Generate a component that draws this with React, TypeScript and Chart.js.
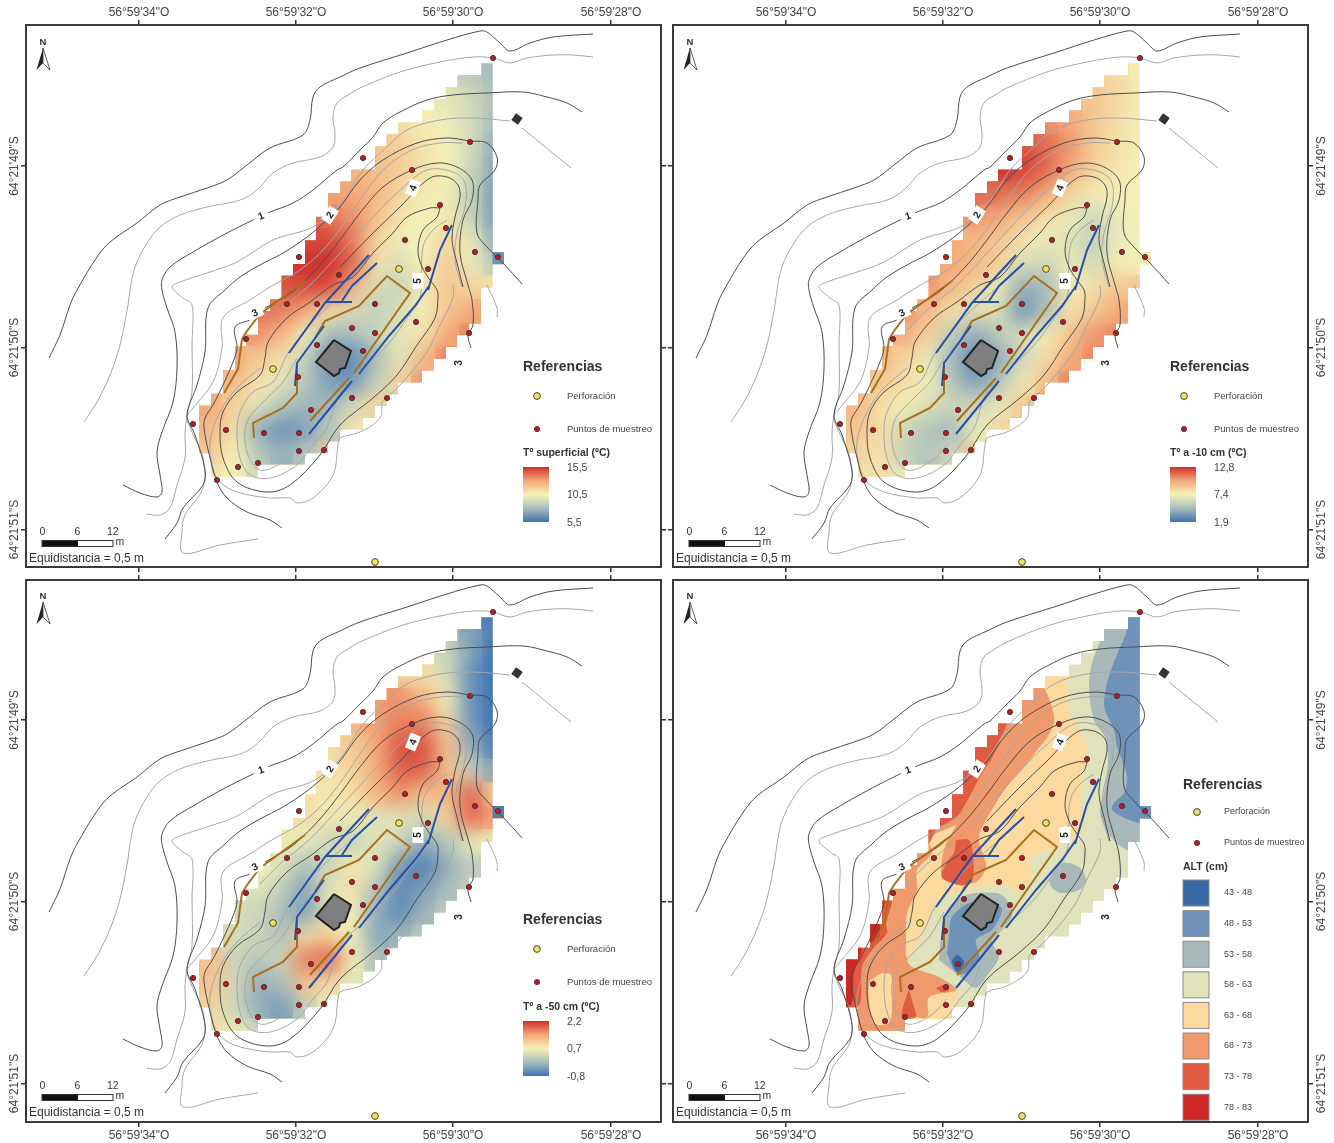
import React, { useEffect, useRef } from "react";
import { Chart, registerables } from "chart.js";

type P = [number, number];
type N = number | null;
const _ = null;

// ---- axes ----
const lonTicks = [139, 296, 453, 611];
const lonLabels = ['56°59\'34"O', '56°59\'32"O', '56°59\'30"O', '56°59\'28"O'];
const latTicks = [166, 347.5, 529.5];
const latLabels = ['64°21\'49"S', '64°21\'50"S', '64°21\'51"S'];

// ---- contours ----
const contourOuter: P[] = [[49,358],[60,335],[70,305],[77,290],[97,257],[110,242],[137,223],[160,205],[180,197],[207,188],[227,180],[247,165],[270,148],[303,135],[310,120],[313,97],[320,87],[340,77],[360,68],[407,53],[447,40],[480,31],[487,32],[500,43],[510,51],[530,43],[553,37],[593,34]];
const contourOuterGrey: P[] = [[84,422],[97,402],[110,375],[120,345],[128,305],[130,290],[135,267],[147,243],[160,227],[180,215],[207,207],[233,202],[247,197],[260,187],[273,173],[293,163],[320,157],[333,147],[335,133],[333,117],[337,103],[348,95],[360,88],[400,72],[440,62],[473,57],[493,58],[510,63],[527,58],[553,55],[573,55],[593,57]];
const contour1: P[] = [[123,485],[140,493],[157,497],[162,492],[160,475],[157,452],[162,432],[173,402],[177,368],[175,332],[167,308],[162,290],[162,280],[170,267],[193,252],[227,233],[253,220],[270,212],[293,203],[313,190],[337,170],[343,167],[360,150],[373,137],[383,123],[400,112],[427,100],[453,95],[487,93],[523,92],[547,97],[567,103],[582,112]];
const contourGreyD: P[] = [[147,514],[160,515],[170,508],[177,485],[185,458],[185,432],[187,415],[192,392],[192,345],[192,305],[183,298],[172,287],[180,282],[207,273],[237,262],[273,240],[313,227],[340,205],[363,170],[387,147],[407,130],[440,120],[473,118],[510,121]];
const contour2: P[] = [[165,539],[177,523],[183,508],[203,485],[205,470],[195,435],[187,415],[197,385],[205,352],[208,308],[225,290],[240,277],[260,265],[283,253],[307,237],[327,220],[340,207],[360,180],[383,160],[417,143],[447,138],[470,141],[487,143],[497,157],[495,170],[480,185],[478,200],[477,233],[487,247],[503,263],[522,284]];
const contourGreyF: P[] = [[258,539],[220,545],[183,553],[182,532],[185,515],[203,488],[203,458],[192,432],[187,417],[193,408],[213,382],[222,348],[223,318],[250,300],[270,287],[300,270],[325,248],[350,215],[360,200],[383,170],[412,150],[440,143],[463,143]];
const contour3: P[] = [[282,528],[270,520],[247,512],[227,498],[217,482],[210,458],[204,428],[205,418],[213,405],[223,385],[233,362],[237,348],[235,327],[250,320]];
const contour3b: P[] = [[265,308],[283,298],[297,288],[320,265],[340,240],[360,213],[383,187],[412,170],[437,163],[457,167],[472,180],[472,200],[463,220],[460,253],[468,285],[472,300],[473,325],[468,335],[471,348]];
const contour4: P[] = [[340,267],[373,233],[400,207],[430,178],[447,177],[458,185],[460,197],[455,217],[452,240],[457,263],[463,287]];
const contour5: P[] = [[440,208],[430,208],[407,217],[393,233],[373,253],[353,277],[333,285],[310,302],[287,318],[268,342],[265,358],[260,375],[237,392],[223,412],[220,432],[223,458],[237,482],[267,492],[290,485],[320,455],[340,425],[373,398],[397,375],[417,345],[435,318],[438,298],[437,290],[430,280],[422,267],[418,250],[423,230],[437,217],[440,208]];
const contourGreyG: P[] = [[382,402],[380,418],[360,432],[340,438],[338,445],[333,475],[313,498],[297,503],[290,498],[270,498],[237,492],[220,482],[213,468],[210,442],[220,412],[237,388],[260,368]];
const contourGreyH: P[] = [[382,402],[400,385],[427,352],[440,325],[453,298],[453,285]];
const contourGreyI: P[] = [[447,220],[433,230],[423,247],[420,298],[407,318],[390,342],[367,365],[340,392],[327,428],[313,445],[297,465],[270,478],[250,475],[240,458],[237,432],[240,412],[253,392],[273,382],[287,355],[307,328],[330,305],[350,288]];
const contourGreyJ: P[] = [[300,445],[283,462],[260,470],[247,452],[247,422],[267,398],[283,382],[297,358]];
const contourGreyK: P[] = [[260,330],[280,310],[310,285],[340,253],[377,213],[397,193],[427,170],[453,172],[465,183],[465,207],[457,233],[455,260],[462,287]];
const contourGreyL: P[] = [[487,285],[497,308],[497,317]];
const darkContours = [contourOuter, contour1, contour2, contour3, contour3b, contour4, contour5];
const greyContours = [contourOuterGrey, contourGreyD, contourGreyF, contourGreyG, contourGreyH, contourGreyI, contourGreyJ, contourGreyK, contourGreyL];
const hutLine: P[] = [[522,128],[571,168]];

// ---- site features ----
const blueLines: P[][] = [
  [[369,255],[345,281],[325,303],[289,353]],
  [[325,302],[352,302]],
  [[377,263],[352,286],[342,301]],
  [[324,326],[297,363],[295,386]],
  [[429,286],[415,306],[389,336],[359,374]],
  [[352,381],[309,434]],
  [[452,225],[440,250],[428,290]],
];
const brownLines: P[][] = [
  [[305,281],[275,303],[260,314],[247,331],[242,339],[238,369],[224,393]],
  [[254,438],[253,423],[283,408],[297,393],[297,365]],
  [[315,338],[325,321],[359,306],[387,276],[410,293],[354,373]],
  [[349,378],[310,421]],
];
const building: P[] = [[334,340],[351,351],[345,368],[340,369],[339,373],[334,376],[316,362],[334,340]];
const hut: P[] = [[517,119]];
const samplePoints: P[] = [[299,257],[339,275],[493,58],[363,158],[470,142],[412,170],[440,205],[446,228],[405,240],[475,252],[498,257],[428,269],[287,304],[317,304],[246,339],[317,345],[298,377],[311,410],[193,424],[226,430],[264,433],[299,433],[299,451],[324,450],[238,467],[258,463],[217,480],[375,304],[352,328],[375,333],[416,322],[363,351],[469,333],[352,398],[387,398]];
const boreholes: P[] = [[399,269],[273,369],[375,562]];

// ---- raster footprint (one entry per row of the raster) ----
const footLeft = [481,457,445.6,434,422,398,386.5,375,375,351,340,328,328,316,316,305,305,293,281.5,281.5,270,258,258,246,235,235,223,223,211,199,199,199,199,211,211];
const footRight = [492.7,492.7,492.7,492.7,492.7,492.7,492.7,492.7,492.7,492.7,492.7,492.7,492.7,492.7,492.7,492.7,504,492.7,492.7,481,481,481,469,457,446,434,422,398,387,375,363,340,328,305,258];

// ---- raster values ----
const heatX = [211,235,258,282,305,329,353,376,400,423,447,471,494];
const heatY = [75,99,122,146,169,193,217,240,264,287,311,335,358,382,405,429,453,476];
const tempSurface: N[][] = [
  [_,_,_,_,_,_,_,_,_,_,9.5,8.7,8],
  [_,_,_,_,_,_,_,_,_,10,10,9.3,8.3],
  [_,_,_,_,_,_,_,_,11.2,10.7,10.3,9.5,8],
  [_,_,_,_,_,_,_,12,11.7,11,10.5,9.5,7.5],
  [_,_,_,_,_,_,12.5,12.3,11.8,11,10.5,9.3,7.2],
  [_,_,_,_,_,13,13,12.5,11.5,10.8,10.3,9,7],
  [_,_,_,_,14,14,13.5,12.3,11,10.5,10.8,9,7],
  [_,_,_,15,15,15,14,11.5,10.3,10.5,11.5,10.3,7.5],
  [_,_,_,15,15.5,15.5,14.5,11,9.5,10.5,12,10.3,8.5],
  [_,_,14.5,14.8,15,15,12.5,9.5,9,10.8,12,11.5,11],
  [_,13.5,14,14,13,11,9.5,9,9.5,10.5,12,13,_],
  [_,13.5,13.5,12.5,10.5,8,8,9,10,11,13,14,_],
  [13,13,12,11,9,6.5,6.2,8,10,12.5,14,_,_],
  [13.5,12.5,11,10,8.5,7,6.5,9,11.5,13.5,_,_,_],
  [13,11.5,10,8.5,7.8,7.8,9.5,11.5,13,_,_,_,_],
  [12.5,11,7.5,6.5,7,8.5,11,13,_,_,_,_,_],
  [12,10.5,8.5,7.5,8.5,12,12,_,_,_,_,_,_],
  [11,10.5,9.5,10,11,_,_,_,_,_,_,_,_],
];
const temp10cm: N[][] = [
  [_,_,_,_,_,_,_,_,_,_,8.5,8.3,7.5],
  [_,_,_,_,_,_,_,_,_,9.3,9,8.3,7.5],
  [_,_,_,_,_,_,_,_,10.5,10,9,8,7.5],
  [_,_,_,_,_,_,_,12,11.5,10.5,8.8,8,7.5],
  [_,_,_,_,_,_,12.8,12.5,11.5,10,8.5,7.8,7.3],
  [_,_,_,_,_,11.5,11.5,11,10,8.5,7.5,7.5,7.3],
  [_,_,_,_,10.5,10.5,10,9,8,7,6,7,7.3],
  [_,_,_,10.5,10,9.5,9,8,7,6.5,5.5,7,7.2],
  [_,_,_,10.5,10,9.5,8.5,6.5,6,7,6,7.5,7.5],
  [_,_,11,10.5,9.5,8.5,7,4,4.5,7.5,8,9,9],
  [_,11,10.5,9.5,8,6.5,6.5,3,5,8,9,10,_],
  [_,10.5,10,8.5,5.5,4,5.5,6.5,7.5,9,10.5,11,_],
  [10,9.5,8.5,7,4.5,2.5,4,6,8,10,11,_,_],
  [10,9,8,7.2,5,3.5,5,7.5,9.5,11,_,_,_],
  [9.5,8,7.5,6.5,6,6,7,9,11,_,_,_,_],
  [9,8,6,5,4.5,7,8.5,10.5,_,_,_,_,_],
  [8.5,8,5.5,5,6,9,9.5,_,_,_,_,_,_],
  [8,8,7,7.5,8,_,_,_,_,_,_,_,_],
];
const temp50cm: N[][] = [
  [_,_,_,_,_,_,_,_,_,_,0.1,-0.3,-0.7],
  [_,_,_,_,_,_,_,_,_,0.6,0.3,-0.3,-0.8],
  [_,_,_,_,_,_,_,_,1,0.9,0.4,-0.5,-0.8],
  [_,_,_,_,_,_,_,1.5,1.6,1.4,0.7,-0.5,-0.8],
  [_,_,_,_,_,_,1.3,1.5,1.7,1.7,1,-0.4,-0.8],
  [_,_,_,_,_,0.9,1.1,1.4,2,2,1.2,-0.2,-0.7],
  [_,_,_,_,0.9,0.9,1,1.4,1.9,1.9,1.2,0.3,-0.3],
  [_,_,_,0.9,0.9,0.8,0.9,1.3,1.6,1.2,1.3,1.9,1],
  [_,_,_,0.9,0.9,0.8,0.6,0.5,0.5,0.4,1,1.9,1.5],
  [_,_,0.8,0.8,0.6,0.3,0.2,0.5,0.4,-0.2,0.1,0.6,0.6],
  [_,0.6,0.7,0.5,0,0.3,0.8,0.5,-0.4,-0.7,-0.2,0.2,_],
  [_,0.4,0.5,0.2,-0.3,0.5,0.9,0.1,-0.6,-0.4,0,0.2,_],
  [0.8,0.4,0.3,0,-0.4,0.6,0.7,-0.2,-0.6,-0.1,0.2,_,_],
  [1,0.4,0.3,0,0.9,1.1,0.7,-0.3,-0.1,0.2,_,_,_],
  [1.2,0.3,0.1,0.3,1.7,1.9,0.7,0,0.3,_,_,_,_],
  [1.2,0.4,-0.2,0,1.2,0.9,0.5,0.4,_,_,_,_,_],
  [1,0.3,-0.2,-0.4,0.2,0.6,0.6,_,_,_,_,_,_],
  [0.9,0.6,0.4,0.4,0.5,_,_,_,_,_,_,_,_],
];
const sideCellSurface = 6.5;
const sideCell10cm = 7.6;
const sideCell50cm = -0.7;
const sideCell: P = [498.5, 258];

// ---- active-layer bands ----
const altClasses = ["43 - 48","48 - 53","53 - 58","58 - 63","63 - 68","68 - 73","73 - 78","78 - 83"];
const altColors = ["#3a6ba8","#6f93b8","#a9b8b8","#dfe2bb","#fbd99f","#f0996c","#e05b42","#cc2826"];
const altBase: P[] = [[190,55],[510,55],[510,480],[190,480]];
const alt63: P[] = [[422,110],[422,156],[432,176],[440,189],[440,206],[435,226],[434,253],[437,266],[432,283],[410,293],[384,303],[385,313],[382,329],[370,339],[362,333],[345,331],[319,336],[289,349],[279,373],[260,403],[265,413],[292,423],[309,436],[309,449],[304,463],[304,480],[190,480],[190,400],[280,270],[340,170],[397,110]];
const alt68: P[] = [[385,130],[397,134],[407,169],[385,203],[365,226],[349,249],[332,283],[339,313],[329,328],[309,331],[289,349],[279,373],[260,403],[265,413],[292,423],[309,436],[282,443],[280,463],[259,463],[259,480],[190,480],[190,390],[250,300],[290,250],[330,180],[380,125]];
const alt63b: P[] = [[309,271],[297,296],[295,324],[309,331],[289,349],[279,373],[260,403],[259,386],[260,359],[270,336],[270,316],[285,299],[282,284]];
const alt63c: P[] = [[235,419],[244,421],[245,454],[242,469],[227,469],[222,429]];
const alt73a: P[] = [[309,286],[322,286],[326,301],[325,328],[312,331],[295,323],[300,308],[307,299]];
const alt73b: P[] = [[362,165],[352,189],[344,206],[335,219],[319,249],[309,264],[290,275],[280,290],[250,260],[330,160]];
const alt73c: P[] = [[234,346],[245,346],[239,369],[240,379],[225,396],[215,413],[212,451],[190,451],[190,400],[215,385],[225,365]];
const alt73d: P[] = [[262,436],[267,453],[269,463],[255,463],[259,443]];
const alt73e: P[] = [[289,434],[297,431],[302,436],[295,438]];
const alt78a: P[] = [[190,404],[199,404],[210,393],[215,396],[207,419],[204,451],[190,451]];
const alt78b: P[] = [[222,369],[232,369],[232,383],[222,388]];
const alt58a: P[] = [[457,60],[457,76],[445,109],[442,133],[447,166],[458,183],[461,199],[460,219],[457,239],[453,259],[464,283],[480,296],[510,300],[510,60]];
const alt53a: P[] = [[292,406],[309,419],[329,434],[342,419],[352,403],[345,386],[365,363],[360,346],[349,339],[319,341],[302,353],[295,376]];
const alt53b: P[] = [[402,326],[415,309],[432,313],[439,326],[432,336],[415,339],[405,334]];
const alt48a: P[] = [[480,60],[480,76],[469,103],[460,129],[457,149],[459,159],[467,176],[470,193],[475,206],[480,223],[477,239],[467,249],[465,256],[485,267],[510,270],[510,60]];
const alt48b: P[] = [[300,399],[309,419],[320,419],[332,403],[329,386],[345,376],[355,356],[345,348],[322,349],[305,363],[302,383]];
const alt43a: P[] = [[305,406],[310,401],[317,408],[312,418],[307,414]];

// ---- colour ramp ----
const rampStops: [number, number, number][] = [[63,115,180],[168,188,188],[244,242,184],[244,168,120],[208,48,44]];
function rampColor(t: number) {
  const c = Math.max(0, Math.min(1, t)) * (rampStops.length - 1);
  const i = Math.min(rampStops.length - 2, Math.floor(c));
  const f = c - i;
  const m = (k: number) => Math.round(rampStops[i][k] + (rampStops[i + 1][k] - rampStops[i][k]) * f);
  return `rgb(${m(0)},${m(1)},${m(2)})`;
}

const SERIF_FREE = '"Liberation Sans", Arial, sans-serif';
const xy = (p: P[]) => p.map(([x, y]) => ({ x, y }));
const closed = (p: P[]) => xy([...p, p[0]]);

function footprintPath(chart: any) {
  const ctx = chart.ctx, sx = chart.scales.x, sy = chart.scales.y;
  ctx.beginPath();
  footLeft.forEach((l, j) => {
    const y0 = sy.getPixelForValue(63.3 + 11.8 * j);
    const y1 = sy.getPixelForValue(63.3 + 11.8 * (j + 1));
    const x0 = sx.getPixelForValue(l);
    const x1 = sx.getPixelForValue(footRight[j]);
    ctx.rect(x0, y0, x1 - x0, y1 - y0 + 0.5);
  });
}
const footClip = {
  id: "footClip",
  beforeDatasetDraw(chart: any, args: any) {
    const ds = chart.data.datasets[args.index];
    if (!ds.clipFoot) return;
    chart.ctx.save();
    footprintPath(chart);
    chart.ctx.clip();
  },
  afterDatasetDraw(chart: any, args: any) {
    const ds = chart.data.datasets[args.index];
    if (!ds.clipFoot) return;
    const ctx = chart.ctx;
    if (ds.smoothPx) {
      // soften the finished raster layer as a whole
      ctx.filter = `blur(${ds.smoothPx}px)`;
      ctx.drawImage(chart.canvas, 0, 0);
      ctx.filter = "none";
    }
    ctx.restore();
  },
};
Chart.register(footClip, ...registerables);

function line(p: P[], color: string, width: number, tension = 0.35) {
  return { data: xy(p), showLine: true, borderColor: color, borderWidth: width, pointRadius: 0, tension, fill: false };
}
function band(p: P[], color: string) {
  return { data: closed(p), showLine: true, borderWidth: 0, borderColor: color, backgroundColor: color, pointRadius: 0, tension: 0.3, fill: "shape", clipFoot: true };
}
function heatLayers(grid: N[][], lo: number, hi: number, side: number) {
  const pts: { x: number; y: number }[] = [];
  const cols: string[] = [];
  grid.forEach((row, j) => row.forEach((v, i) => {
    if (v === null) return;
    pts.push({ x: heatX[i], y: heatY[j] });
    cols.push(rampColor((v - lo) / (hi - lo)));
  }));
  return [
    { data: pts, showLine: false, pointStyle: "rect", pointRadius: 17, pointBorderWidth: 0, pointBackgroundColor: cols, clipFoot: true, smoothPx: 10 },
    { data: xy([sideCell]), showLine: false, pointStyle: "rect", pointRadius: 8.4, pointBorderWidth: 0, pointBackgroundColor: rampColor((side - lo) / (hi - lo)), clipFoot: true },
  ];
}
function altLayers() {
  const c = altColors;
  return [
    band(altBase, c[3]), band(alt58a, c[2]), band(alt48a, c[1]), band(alt63, c[4]), band(alt68, c[5]),
    band(alt63b, c[4]), band(alt63c, c[4]), band(alt73a, c[6]), band(alt73b, c[6]), band(alt73c, c[6]),
    band(alt73d, c[6]), band(alt73e, c[6]), band(alt78a, c[7]), band(alt78b, c[7]),
    band(alt53a, c[2]), band(alt53b, c[2]), band(alt48b, c[1]), band(alt43a, c[0]),
  ];
}
function mapLayers() {
  return [
    ...greyContours.map((g) => line(g, "#a6a6a6", 1)),
    line(hutLine, "#a6a6a6", 1),
    ...darkContours.map((g) => line(g, "#4d4d4d", 1)),
    ...brownLines.map((g) => line(g, "#a8701e", 2, 0)),
    ...blueLines.map((g) => line(g, "#2650a8", 2, 0)),
    { data: xy(building), showLine: true, borderColor: "#222", borderWidth: 2, backgroundColor: "#7f7f7f", pointRadius: 0, tension: 0, fill: "shape" },
    { data: xy(hut), showLine: false, pointStyle: "rect", pointRotation: 35, pointRadius: 5.8, pointBackgroundColor: "#333", pointBorderWidth: 0 },
    { data: xy(samplePoints), showLine: false, pointRadius: 2.6, pointBackgroundColor: "#c8141e", pointBorderColor: "#3a3a3a", pointBorderWidth: 1 },
    { data: xy(boreholes), showLine: false, pointRadius: 3.4, pointBackgroundColor: "#f2e05a", pointBorderColor: "#4a4a3a", pointBorderWidth: 1 },
  ];
}

const contourLabels: { t: string; x: number; y: number; a: number }[] = [
  { t: "1", x: 261, y: 216, a: -20 },
  { t: "2", x: 330, y: 215, a: -58 },
  { t: "3", x: 255, y: 313, a: -25 },
  { t: "4", x: 413, y: 188, a: -68 },
  { t: "5", x: 418, y: 281, a: -90 },
  { t: "3", x: 459, y: 363, a: -90 },
];

function overlay(panel: any) {
  return {
    id: "mapOverlay",
    afterDatasetsDraw(chart: any) {
      const ctx = chart.ctx, sx = chart.scales.x, sy = chart.scales.y;
      const X = (v: number) => sx.getPixelForValue(v);
      const Y = (v: number) => sy.getPixelForValue(v);
      const text = (s: string, x: number, y: number, font: string, color = "#444") => {
        ctx.font = font; ctx.fillStyle = color; ctx.textBaseline = "middle"; ctx.textAlign = "left";
        ctx.fillText(s, X(x), Y(y));
      };
      const F = (size: number, bold = false) => `${bold ? "bold " : ""}${size}px ${SERIF_FREE}`;
      ctx.save();
      // contour labels
      for (const l of contourLabels) {
        ctx.save();
        ctx.translate(X(l.x), Y(l.y));
        ctx.rotate((l.a * Math.PI) / 180);
        ctx.fillStyle = "#fff";
        ctx.fillRect(-8, -5.5, 16, 11);
        ctx.fillStyle = "#222"; ctx.font = F(10, true); ctx.textAlign = "center"; ctx.textBaseline = "middle";
        ctx.fillText(l.t, 0, 0.5);
        ctx.restore();
      }
      // north arrow
      text("N", 39.5, 42, F(9.5, true), "#333");
      ctx.beginPath(); ctx.moveTo(X(43), Y(48)); ctx.lineTo(X(36.5), Y(70)); ctx.lineTo(X(43), Y(63)); ctx.closePath(); ctx.fillStyle = "#222"; ctx.fill();
      ctx.beginPath(); ctx.moveTo(X(43), Y(48)); ctx.lineTo(X(50), Y(70)); ctx.lineTo(X(43), Y(63)); ctx.closePath(); ctx.fillStyle = "#fff"; ctx.fill(); ctx.strokeStyle = "#333"; ctx.lineWidth = 0.8; ctx.stroke();
      // scale bar
      text("0", 39.5, 532, F(10.5), "#333");
      text("6", 74.5, 532, F(10.5), "#333");
      text("12", 107, 532, F(10.5), "#333");
      text("m", 115.5, 542, F(10.5), "#333");
      ctx.fillStyle = "#111"; ctx.fillRect(X(42), Y(540.5), 36, 6);
      ctx.strokeStyle = "#333"; ctx.lineWidth = 1; ctx.strokeRect(X(42), Y(540.5), 71, 6);
      text("Equidistancia = 0,5 m", 29, 559, F(12), "#333");
      // legend
      const L = panel.legend;
      const small = panel.ramp ? 9.5 : 9;
      text("Referencias", L.x, L.refY, F(14, true), "#333");
      const marker = (y: number, fill: string, r: number) => {
        ctx.beginPath(); ctx.arc(X(L.x + 14), Y(y), r, 0, Math.PI * 2); ctx.fillStyle = fill; ctx.fill(); ctx.strokeStyle = "#444"; ctx.lineWidth = 1; ctx.stroke();
      };
      marker(L.perfY, "#f2e05a", 3.4);
      marker(L.puntY, "#c8141e", 2.6);
      text("Perforación", L.textX, L.perfY, F(small));
      text("Puntos de muestreo", L.textX, L.puntY, F(small));
      text(panel.title, L.x, L.titleY, F(10.5, true), "#333");
      if (panel.ramp) {
        const top = Y(467), bottom = Y(522);
        const g = ctx.createLinearGradient(0, top, 0, bottom);
        [1, 0.75, 0.5, 0.25, 0].forEach((t, i) => g.addColorStop(i / 4, rampColor(t)));
        ctx.fillStyle = g; ctx.fillRect(X(523), top, 26, bottom - top);
        text(panel.ramp[0], 567, 468, F(10.5));
        text(panel.ramp[1], 567, 495, F(10.5));
        text(panel.ramp[2], 567, 523, F(10.5));
      } else {
        altClasses.forEach((c, i) => {
          const y = 326 + i * 30.6;
          ctx.fillStyle = altColors[i]; ctx.fillRect(X(536), Y(y), 26, 26);
          ctx.strokeStyle = "#8a8a8a"; ctx.lineWidth = 1; ctx.strokeRect(X(536), Y(y), 26, 26);
          text(c, 577, y + 13, F(9));
        });
      }
      ctx.restore();
    },
  };
}

const panels = [
  { left: 0, top: 0, xPos: "top", yPos: "left", yMin: 25, title: "Tº superficial (ºC)", ramp: ["15,5","10,5","5,5"],
    legend: { x: 523, refY: 367, perfY: 396, puntY: 429, titleY: 453, textX: 567 }, layers: () => heatLayers(tempSurface, 5.5, 15.5, sideCellSurface) },
  { left: 667, top: 0, xPos: "top", yPos: "right", yMin: 25, title: "Tº a -10 cm (ºC)", ramp: ["12,8","7,4","1,9"],
    legend: { x: 523, refY: 367, perfY: 396, puntY: 429, titleY: 453, textX: 567 }, layers: () => heatLayers(temp10cm, 1.9, 12.8, sideCell10cm) },
  { left: 0, top: 574, xPos: "bottom", yPos: "left", yMin: 26, title: "Tº a -50 cm (ºC)", ramp: ["2,2","0,7","-0,8"],
    legend: { x: 523, refY: 366, perfY: 395, puntY: 428, titleY: 453, textX: 567 }, layers: () => heatLayers(temp50cm, -0.8, 2.2, sideCell50cm) },
  { left: 667, top: 574, xPos: "bottom", yPos: "right", yMin: 26, title: "ALT (cm)", ramp: null,
    legend: { x: 536, refY: 231, perfY: 258, puntY: 289, titleY: 313, textX: 577 }, layers: () => altLayers() },
];

function buildConfig(p: any): any {
  const leftLab = p.yPos === "left", topLab = p.xPos === "top";
  const gridOpts = { display: true, drawOnChartArea: false, drawTicks: true, tickLength: 5, tickColor: "#333", lineWidth: 1.5 };
  const borderOpts = { display: true, color: "#3a3a3a", width: 2 };
  const xTicks = (s: any) => { s.ticks = lonTicks.map((value) => ({ value })); };
  const yTicks = (s: any) => { s.ticks = latTicks.map((value) => ({ value })); };
  const xR = { type: "linear", min: 26, max: 661, grid: gridOpts, border: borderOpts, afterBuildTicks: xTicks };
  const yR = { type: "linear", reverse: true, min: p.yMin, max: p.yMin + 542, grid: gridOpts, border: borderOpts, afterBuildTicks: yTicks };
  return {
    type: "scatter",
    // Chart.js paints the first dataset last, so the bottom layer goes at the end.
    data: { datasets: [...p.layers(), ...mapLayers()].reverse() },
    plugins: [overlay(p)],
    options: {
      animation: false,
      responsive: false,
      events: [],
      layout: { autoPadding: false, padding: 0 },
      plugins: { legend: { display: false }, tooltip: { enabled: false } },
      scales: {
        x: { ...xR, position: p.xPos,
          afterFit: (s: any) => { s.height = topLab ? 25 : 21; },
          ticks: { autoSkip: false, maxRotation: 0, minRotation: 0, padding: topLab ? 0 : 1, color: "#444", font: { size: 12, family: SERIF_FREE }, callback: (_v: any, i: number) => lonLabels[i] } },
        x2: { ...xR, position: topLab ? "bottom" : "top",
          afterFit: (s: any) => { s.height = topLab ? 7 : 6; },
          ticks: { display: false } },
        y: { ...yR, position: p.yPos,
          afterFit: (s: any) => { s.width = 26; },
          ticks: { autoSkip: false, minRotation: 90, maxRotation: 90, crossAlign: "center", padding: leftLab ? -23.5 : -21.5, color: "#444", font: { size: 12, family: SERIF_FREE }, callback: (_v: any, i: number) => latLabels[i] } },
        y2: { ...yR, position: leftLab ? "right" : "left",
          afterFit: (s: any) => { s.width = 6; },
          ticks: { display: false } },
      },
    },
  };
}

function Panel({ p }: { p: any }) {
  const ref = useRef<HTMLCanvasElement>(null);
  useEffect(() => {
    const chart = new Chart(ref.current as any, buildConfig(p));
    return () => chart.destroy();
  }, []);
  const h = p.top === 0 ? 574 : 569;
  return <canvas ref={ref} width={667} height={h} style={{ position: "absolute", left: p.left, top: p.top, width: 667, height: h, filter: "blur(0.35px)" }} />;
}

export default function App() {
  return (
    <div style={{ position: "absolute", left: 0, top: 0, width: 1334, height: 1143, background: "#fff", overflow: "hidden" }}>
      {panels.map((p, i) => <Panel key={i} p={p} />)}
    </div>
  );
}
